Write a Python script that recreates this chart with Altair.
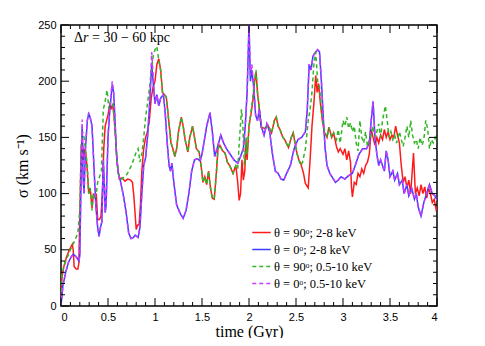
import altair as alt
import pandas as pd

# ---------------- data ----------------
red_t = [0, 0.01, 0.03, 0.06, 0.09, 0.12, 0.13, 0.14, 0.16, 0.18, 0.19, 0.2, 0.215, 0.225, 0.24, 0.25, 0.265, 0.28, 0.295, 0.31,
         0.33, 0.345, 0.36, 0.375, 0.39, 0.41, 0.425, 0.44, 0.455, 0.47, 0.485, 0.5, 0.52, 0.535, 0.55, 0.565, 0.58, 0.6, 0.62, 0.65,
         0.68, 0.71, 0.74, 0.76, 0.775, 0.79, 0.8, 0.815, 0.83, 0.845, 0.86, 0.88, 0.9, 0.92, 0.94, 0.96, 0.98, 1.0, 1.02, 1.04,
         1.06, 1.08, 1.1, 1.12, 1.14, 1.17, 1.19, 1.21, 1.23, 1.25, 1.28, 1.3, 1.32, 1.35, 1.37, 1.4, 1.42, 1.44, 1.47, 1.49,
         1.51, 1.53, 1.55, 1.57, 1.59, 1.61, 1.63, 1.65, 1.67, 1.69, 1.72, 1.745, 1.77, 1.8, 1.83, 1.86, 1.88, 1.895, 1.91, 1.925,
         1.94, 1.955, 1.97, 1.98, 2.0, 2.02, 2.04, 2.06, 2.075, 2.09, 2.1, 2.13, 2.17, 2.2, 2.24, 2.27, 2.29, 2.31, 2.33, 2.36,
         2.38, 2.42, 2.45, 2.47, 2.49, 2.51, 2.53, 2.55, 2.58, 2.6, 2.63, 2.65, 2.67, 2.69, 2.71, 2.725, 2.74, 2.76, 2.78, 2.8,
         2.83, 2.85, 2.88, 2.9, 2.93, 2.95, 2.97, 3.0, 3.02, 3.04, 3.06, 3.08, 3.09, 3.1, 3.12, 3.14, 3.16, 3.18, 3.2, 3.22,
         3.24, 3.26, 3.28, 3.3, 3.32, 3.34, 3.36, 3.38, 3.4, 3.42, 3.44, 3.46, 3.48, 3.5, 3.52, 3.54, 3.56, 3.58, 3.6, 3.62,
         3.64, 3.66, 3.68, 3.7, 3.72, 3.75, 3.77, 3.79, 3.81, 3.83, 3.85, 3.87, 3.89, 3.91, 3.93, 3.95, 3.97, 3.99, 4.0]
red_v = [0, 25, 35, 44, 50, 55, 50, 35, 33, 33, 38, 80, 140, 150, 130, 140, 135, 120, 100, 105,
         87, 100, 97, 100, 77, 77, 80, 100, 140, 160, 165, 170, 180, 175, 180, 168, 150, 125, 113, 114,
         111, 113, 112, 110, 98, 80, 68, 72, 72, 90, 120, 140, 150, 155, 165, 185, 195, 200, 215, 220,
         210, 190, 188, 186, 170, 145, 140, 133, 140, 155, 168, 160, 148, 137, 150, 160, 150, 140, 137, 125,
         110, 115, 108, 120, 105, 96, 95, 115, 140, 143, 138, 136, 128, 124, 118, 125, 110, 94, 100, 130,
         112, 120, 148, 130, 160, 170, 182, 200, 208, 190, 183, 159, 158, 161, 154, 165, 168, 160, 157, 150,
         148, 141, 150, 154, 145, 136, 130, 127, 118, 109, 105, 130, 160, 180, 205, 190, 198, 180, 165, 155,
         150, 159, 150, 154, 142, 137, 140, 135, 140, 130, 138, 128, 106, 97, 110, 108, 118, 115, 122, 118,
         125, 128, 135, 157, 150, 143, 150, 145, 152, 148, 157, 150, 155, 148, 152, 150, 160, 152, 145, 125,
         110, 115, 105, 112, 100, 136, 100, 105, 98, 108, 100, 106, 96, 105, 100, 92, 95, 86, 88]

blue_t = [0, 0.02, 0.05, 0.08, 0.11, 0.13, 0.16, 0.19, 0.2, 0.215, 0.225, 0.235, 0.245, 0.26, 0.28, 0.295, 0.31, 0.33, 0.35, 0.37,
          0.39, 0.405, 0.42, 0.435, 0.45, 0.46, 0.47, 0.48, 0.5, 0.52, 0.545, 0.56, 0.575, 0.59, 0.61, 0.63, 0.66, 0.69, 0.72, 0.745,
          0.77, 0.79, 0.82, 0.84, 0.86, 0.88, 0.9, 0.92, 0.94, 0.965, 0.985, 1.0, 1.02, 1.04, 1.06, 1.09, 1.11, 1.13, 1.15, 1.165,
          1.18, 1.2, 1.23, 1.27, 1.3, 1.33, 1.36, 1.39, 1.42, 1.45, 1.48, 1.5, 1.52, 1.55, 1.585, 1.61, 1.635, 1.66, 1.68, 1.7,
          1.73, 1.76, 1.8, 1.84, 1.88, 1.91, 1.94, 1.96, 1.98, 2.0, 2.015, 2.03, 2.05, 2.07, 2.09, 2.11, 2.13, 2.16, 2.19, 2.22,
          2.25, 2.28, 2.31, 2.34, 2.37, 2.4, 2.44, 2.48, 2.52, 2.56, 2.6, 2.62, 2.64, 2.66, 2.68, 2.7, 2.73, 2.75, 2.77, 2.79,
          2.81, 2.83, 2.86, 2.89, 2.92, 2.95, 2.98, 3.02, 3.06, 3.1, 3.13, 3.17, 3.21, 3.25, 3.28, 3.3, 3.32, 3.34, 3.36, 3.38,
          3.4, 3.42, 3.44, 3.46, 3.48, 3.5, 3.53, 3.55, 3.58, 3.6, 3.63, 3.65, 3.68, 3.7, 3.73, 3.76, 3.78, 3.8, 3.83, 3.86,
          3.89, 3.92, 3.95, 3.98, 4.0]
blue_v = [0, 18, 30, 39, 44, 46, 44, 40, 45, 120, 160, 115, 100, 140, 165, 171, 168, 160, 125, 90,
          70, 62, 70, 75, 130, 110, 83, 90, 150, 175, 197, 190, 165, 135, 118, 112, 100, 85, 65, 60,
          61, 63, 61, 70, 100, 125, 132, 150, 175, 215, 195, 180, 188, 178, 185, 188, 170, 145, 125, 120,
          127, 110, 90, 82, 78, 85, 100, 120, 130, 131, 129, 135, 145, 160, 172, 155, 133, 140, 146, 152,
          145, 140, 135, 130, 127, 133, 140, 160, 190, 250, 200, 210, 195, 170, 165, 175, 160, 152, 162, 155,
          135, 120, 118, 113, 112, 118, 125, 140, 148, 150, 155, 175, 215, 210, 222, 225, 228, 226, 200, 168,
          140, 125, 118, 114, 110, 112, 115, 113, 116, 118, 125, 135, 140, 140, 145, 165, 182, 150, 135, 125,
          130, 125, 120, 138, 130, 115, 120, 112, 118, 108, 112, 100, 108, 98, 105, 95, 100, 88, 80, 92,
          100, 108, 100, 98, 94]

green_t = [0, 0.01, 0.03, 0.06, 0.1, 0.14, 0.18, 0.2, 0.215, 0.23, 0.245, 0.26, 0.28, 0.295, 0.31, 0.33, 0.345, 0.36, 0.375, 0.39,
           0.41, 0.43, 0.45, 0.465, 0.49, 0.51, 0.53, 0.55, 0.565, 0.58, 0.6, 0.62, 0.65, 0.7, 0.75, 0.8, 0.82, 0.84, 0.86, 0.88,
           0.9, 0.92, 0.95, 0.98, 1.0, 1.02, 1.04, 1.06, 1.08, 1.1, 1.12, 1.14, 1.17, 1.19, 1.21, 1.23, 1.25, 1.28, 1.3, 1.32,
           1.35, 1.37, 1.4, 1.42, 1.44, 1.47, 1.49, 1.51, 1.53, 1.55, 1.57, 1.59, 1.61, 1.63, 1.65, 1.67, 1.69, 1.72, 1.745, 1.77,
           1.8, 1.83, 1.86, 1.88, 1.9, 1.92, 1.935, 1.95, 1.97, 1.98, 2.0, 2.02, 2.04, 2.06, 2.075, 2.09, 2.1, 2.13, 2.17, 2.2,
           2.24, 2.27, 2.29, 2.31, 2.33, 2.36, 2.38, 2.42, 2.45, 2.47, 2.49, 2.51, 2.53, 2.55, 2.57, 2.6, 2.63, 2.65, 2.67, 2.69,
           2.71, 2.73, 2.75, 2.77, 2.79, 2.81, 2.83, 2.85, 2.88, 2.9, 2.93, 2.95, 2.97, 3.0, 3.02, 3.04, 3.06, 3.08, 3.1, 3.12,
           3.14, 3.16, 3.18, 3.2, 3.22, 3.24, 3.26, 3.28, 3.3, 3.32, 3.34, 3.36, 3.38, 3.4, 3.42, 3.45, 3.47, 3.49, 3.51, 3.53,
           3.55, 3.57, 3.6, 3.62, 3.64, 3.66, 3.68, 3.7, 3.72, 3.74, 3.76, 3.78, 3.8, 3.82, 3.84, 3.86, 3.88, 3.9, 3.92, 3.94,
           3.96, 3.98, 4.0]
green_v = [0, 28, 35, 42, 50, 57, 65, 85, 145, 155, 150, 140, 125, 100, 105, 85, 100, 97, 100, 110,
           115, 120, 175, 180, 192, 175, 182, 180, 168, 150, 125, 113, 113, 117, 125, 137, 140, 128, 135, 150,
           168, 180, 200, 222, 228, 231, 218, 210, 190, 188, 186, 170, 145, 140, 133, 140, 155, 168, 160, 148,
           137, 150, 160, 150, 140, 137, 125, 110, 115, 108, 120, 105, 96, 95, 115, 140, 143, 138, 136, 128,
           124, 118, 125, 122, 150, 175, 160, 125, 150, 135, 160, 172, 185, 202, 210, 190, 183, 159, 158, 161,
           154, 165, 168, 160, 157, 150, 148, 141, 150, 154, 145, 136, 130, 125, 128, 140, 165, 175, 190, 215,
           226, 200, 195, 175, 160, 155, 150, 159, 150, 154, 148, 157, 145, 165, 160, 168, 158, 163, 155, 160,
           145, 138, 165, 150, 145, 155, 142, 148, 152, 160, 150, 155, 162, 150, 165, 178, 165, 150, 155, 148,
           152, 145, 155, 148, 142, 150, 160, 150, 165, 152, 145, 148, 140, 150, 143, 148, 165, 158, 140, 148,
           145, 150, 145]

magenta_t = [0, 0.02, 0.05, 0.08, 0.11, 0.13, 0.16, 0.19, 0.2, 0.215, 0.225, 0.235, 0.245, 0.26, 0.28, 0.295, 0.31, 0.33, 0.35, 0.37,
             0.39, 0.405, 0.42, 0.435, 0.45, 0.46, 0.47, 0.48, 0.5, 0.52, 0.545, 0.56, 0.575, 0.59, 0.61, 0.63, 0.66, 0.69, 0.72, 0.745,
             0.77, 0.79, 0.82, 0.84, 0.86, 0.88, 0.9, 0.92, 0.94, 0.965, 0.985, 1.0, 1.02, 1.04, 1.06, 1.09, 1.11, 1.13, 1.15, 1.165,
             1.18, 1.2, 1.23, 1.27, 1.3, 1.33, 1.36, 1.39, 1.42, 1.45, 1.48, 1.5, 1.52, 1.55, 1.585, 1.61, 1.635, 1.66, 1.68, 1.7,
             1.73, 1.76, 1.8, 1.84, 1.88, 1.91, 1.94, 1.96, 1.98, 2.0, 2.015, 2.03, 2.05, 2.07, 2.09, 2.11, 2.13, 2.16, 2.19, 2.22,
             2.25, 2.28, 2.31, 2.34, 2.37, 2.4, 2.44, 2.48, 2.52, 2.56, 2.6, 2.62, 2.64, 2.66, 2.68, 2.7, 2.73, 2.75, 2.77, 2.79,
             2.81, 2.83, 2.86, 2.89, 2.92, 2.95, 2.98, 3.02, 3.06, 3.1, 3.13, 3.17, 3.21, 3.25, 3.28, 3.3, 3.32, 3.34, 3.36, 3.38,
             3.4, 3.42, 3.44, 3.46, 3.48, 3.5, 3.53, 3.55, 3.58, 3.6, 3.63, 3.65, 3.68, 3.7, 3.73, 3.76, 3.78, 3.8, 3.83, 3.86,
             3.89, 3.92, 3.95, 3.98, 4.0]
magenta_v = [0, 18, 30, 39, 44, 46, 44, 40, 45, 125, 166, 115, 100, 140, 165, 172, 168, 160, 125, 90,
             70, 62, 70, 75, 130, 110, 83, 90, 150, 178, 200, 190, 165, 135, 118, 112, 100, 85, 65, 60,
             61, 63, 61, 70, 100, 125, 132, 150, 178, 226, 198, 180, 188, 178, 185, 188, 170, 145, 125, 120,
             127, 110, 90, 82, 78, 85, 100, 120, 130, 131, 129, 135, 145, 160, 172, 155, 133, 140, 146, 152,
             145, 140, 135, 130, 127, 133, 140, 160, 190, 250, 205, 215, 195, 170, 165, 175, 160, 152, 162, 155,
             135, 120, 118, 113, 112, 118, 125, 140, 148, 150, 155, 175, 215, 210, 222, 225, 228, 226, 200, 168,
             140, 125, 118, 114, 110, 112, 115, 113, 116, 118, 125, 135, 140, 140, 145, 165, 182, 150, 135, 125,
             130, 125, 120, 138, 130, 115, 120, 112, 118, 108, 112, 100, 108, 98, 105, 95, 100, 88, 80, 92,
             100, 108, 100, 98, 94]

series_names = ["θ = 90ᵒ; 2-8 keV", "θ = 0ᵒ; 2-8 keV", "θ = 90ᵒ; 0.5-10 keV", "θ = 0ᵒ; 0.5-10 keV"]
series_colors = ["#ff1a1a", "#3c3cff", "#33b526", "#c83cff"]
series_dash = [[1, 0], [1, 0], [4, 3], [4, 3]]

x_major = [0, 0.5, 1, 1.5, 2, 2.5, 3, 3.5, 4]
x_minor = [0.1, 0.2, 0.3, 0.4, 0.6, 0.7, 0.8, 0.9, 1.1, 1.2, 1.3, 1.4, 1.6, 1.7, 1.8, 1.9,
           2.1, 2.2, 2.3, 2.4, 2.6, 2.7, 2.8, 2.9, 3.1, 3.2, 3.3, 3.4, 3.6, 3.7, 3.8, 3.9]
y_major = [0, 50, 100, 150, 200, 250]
y_minor = [10, 20, 30, 40, 60, 70, 80, 90, 110, 120, 130, 140, 160, 170, 180, 190, 210, 220, 230, 240]

# ---------------- build ----------------
W, H = 376, 281
frames = []
for name, ts, vs in zip(series_names, [red_t, blue_t, green_t, magenta_t], [red_v, blue_v, green_v, magenta_v]):
    frames.append(pd.DataFrame({"t": ts, "v": vs, "series": name}))
df = pd.concat(frames, ignore_index=True)

xscale = alt.Scale(domain=[0, 4], nice=False, zero=False)
yscale = alt.Scale(domain=[0, 250], nice=False)
xaxis = alt.Axis(values=x_major, format="~g", title="time (Gyr)", ticks=False, domain=False, grid=False,
                 labelPadding=5, titlePadding=1)
yaxis = alt.Axis(values=y_major, title="σ (km s⁻¹)", ticks=False, domain=False, grid=False,
                 labelPadding=5, titlePadding=7)

color = alt.Color("series:N", scale=alt.Scale(domain=series_names, range=series_colors),
                  legend=alt.Legend(title=None, orient="none", legendX=190, legendY=197, symbolType="stroke",
                                    symbolSize=340, symbolStrokeWidth=1.6, labelFont="Liberation Serif",
                                    labelFontSize=12.5, labelColor="black", rowPadding=0, labelOffset=2,
                                    padding=0))
dash = alt.StrokeDash("series:N", scale=alt.Scale(domain=series_names, range=series_dash), legend=None)

layers = []
for name in series_names:
    layers.append(
        alt.Chart(df).transform_filter(alt.datum.series == name)
        .mark_line(clip=True, strokeWidth=1.5)
        .encode(x=alt.X("t:Q", scale=xscale, axis=xaxis), y=alt.Y("v:Q", scale=yscale, axis=yaxis),
                color=color, strokeDash=dash)
    )

def xticks(vals, length):
    d = pd.DataFrame({"t": vals})
    bot = alt.Chart(d).mark_rule(color="black", strokeWidth=1).encode(
        x=alt.X("t:Q", scale=xscale, axis=xaxis), y=alt.value(H), y2=alt.value(H - length))
    top = alt.Chart(d).mark_rule(color="black", strokeWidth=1).encode(
        x=alt.X("t:Q", scale=xscale, axis=xaxis), y=alt.value(0), y2=alt.value(length))
    return [bot, top]

def yticks(vals, length):
    d = pd.DataFrame({"v": vals})
    left = alt.Chart(d).mark_rule(color="black", strokeWidth=1).encode(
        y=alt.Y("v:Q", scale=yscale, axis=yaxis), x=alt.value(0), x2=alt.value(length))
    right = alt.Chart(d).mark_rule(color="black", strokeWidth=1).encode(
        y=alt.Y("v:Q", scale=yscale, axis=yaxis), x=alt.value(W), x2=alt.value(W - length))
    return [left, right]

ticks = xticks(x_major, 8) + xticks(x_minor, 4) + yticks(y_major, 8) + yticks(y_minor, 4)

ann_df = pd.DataFrame({"a": ["Δ"], "b": ["r"], "c": ["= 30 − 60 kpc"]})
ann1 = alt.Chart(ann_df).mark_text(align="left", baseline="middle", font="Liberation Serif", fontSize=14,
                                   color="black").encode(x=alt.value(13), y=alt.value(13), text="a:N")
ann2 = alt.Chart(ann_df).mark_text(align="left", baseline="middle", font="Liberation Serif", fontSize=14,
                                   fontStyle="italic", color="black").encode(x=alt.value(22), y=alt.value(13), text="b:N")
ann3 = alt.Chart(ann_df).mark_text(align="left", baseline="middle", font="Liberation Serif", fontSize=14,
                                   color="black").encode(x=alt.value(31), y=alt.value(13), text="c:N")

chart = alt.layer(*layers, *ticks, ann1, ann2, ann3).properties(
    width=W, height=H,
    autosize=alt.AutoSizeParams(type="none"),
    padding={"left": 53, "top": 17, "right": 30, "bottom": 32},
).configure_view(stroke="black", strokeWidth=1.5).configure_axis(
    labelFont="Liberation Sans", labelFontSize=11, labelColor="black",
    titleFont="Liberation Serif", titleFontSize=16, titleFontWeight="normal", titleColor="black"
)

chart.save("out.html", embed_options={"renderer": "svg", "actions": False})
